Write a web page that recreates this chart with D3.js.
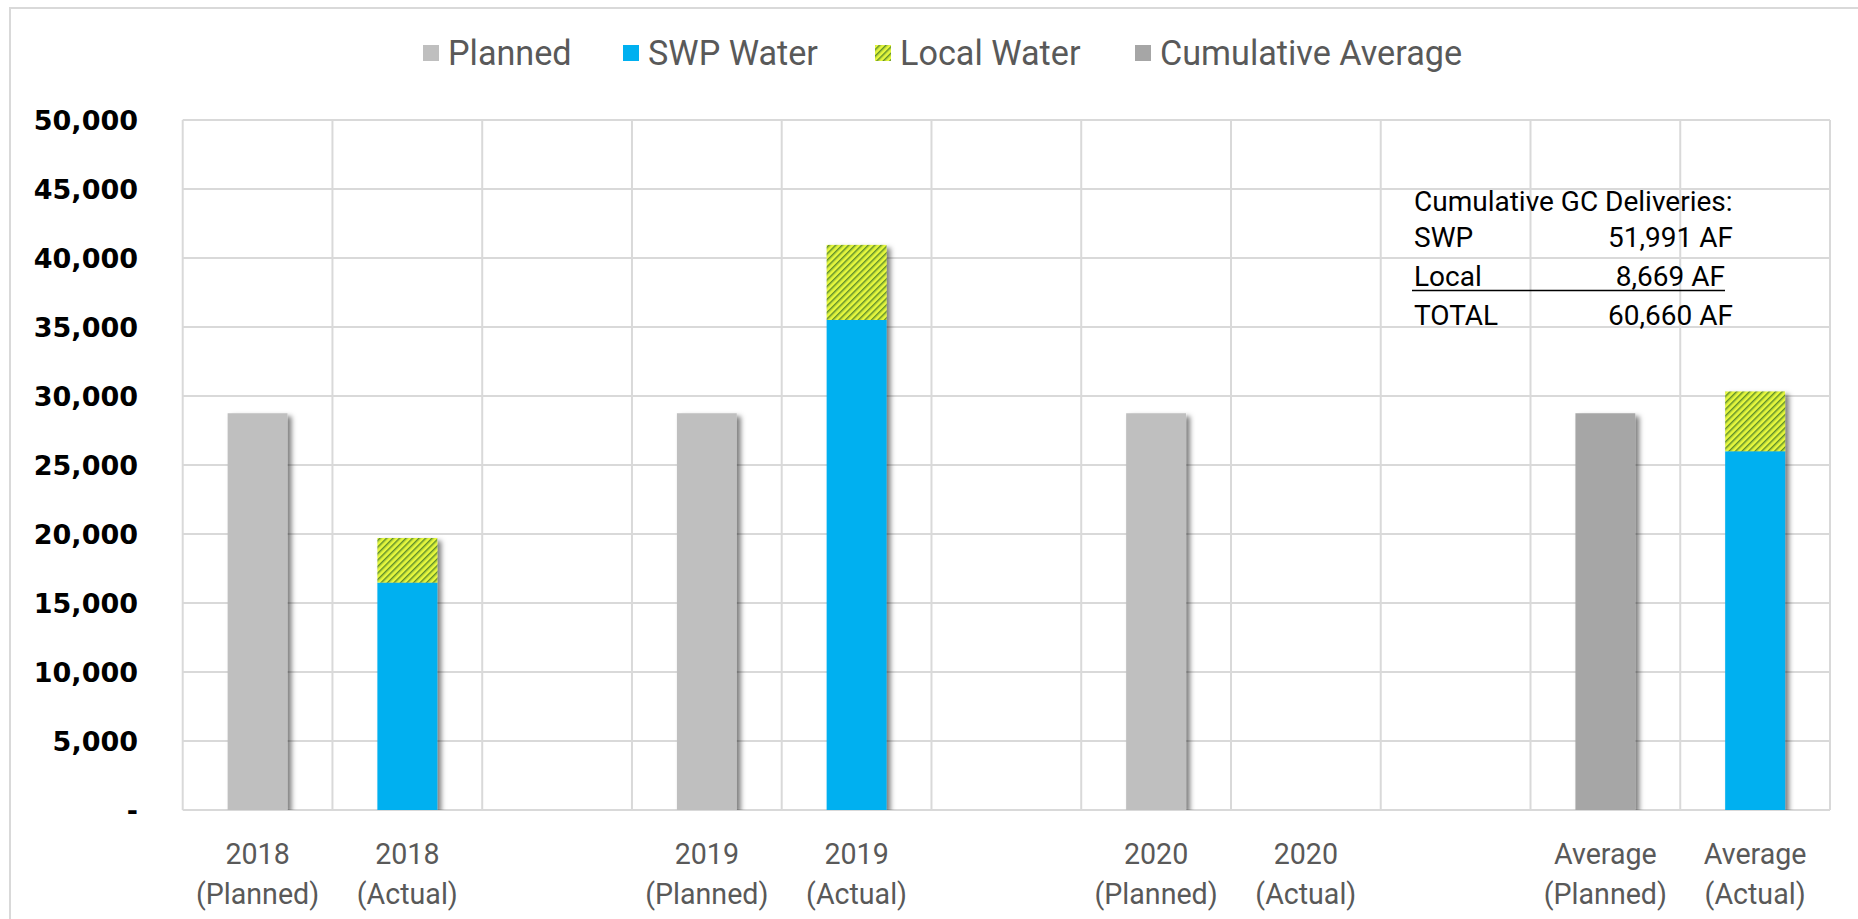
<!DOCTYPE html>
<html>
<head>
<meta charset="utf-8">
<script src="https://cdn.jsdelivr.net/npm/d3@7"></script>
<style>
  html, body { margin: 0; padding: 0; background: #ffffff; }
  svg { display: block; }
</style>
</head>
<body>
<svg id="chart" width="1858" height="919"></svg>
<script>
// ---------------- DATA ----------------
const categories = ["2018 (Planned)", "2018 (Actual)", "gap-1",
                    "2019 (Planned)", "2019 (Actual)", "gap-2",
                    "2020 (Planned)", "2020 (Actual)", "gap-3",
                    "Average (Planned)", "Average (Actual)"];
const xLabelLine1 = ["2018", "2018", "", "2019", "2019", "", "2020", "2020", "", "Average", "Average"];
const xLabelLine2 = ["(Planned)", "(Actual)", "", "(Planned)", "(Actual)", "", "(Planned)", "(Actual)", "", "(Planned)", "(Actual)"];

const planned           = [28750, 0, 0, 28750, 0, 0, 28750, 0, 0, 0, 0];
const swpWater          = [0, 16480, 0, 0, 35511, 0, 0, 0, 0, 0, 25996];
const localWater        = [0, 3230, 0, 0, 5439, 0, 0, 0, 0, 0, 4335];
const cumulativeAverage = [0, 0, 0, 0, 0, 0, 0, 0, 0, 28750, 0];

const yTickValues = [0, 5000, 10000, 15000, 20000, 25000, 30000, 35000, 40000, 45000, 50000];

const legendLabels = ["Planned", "SWP Water", "Local Water", "Cumulative Average"];

const noteTitle = "Cumulative GC Deliveries:";
const noteNames = ["SWP", "Local", "TOTAL"];
const noteValues = ["51,991 AF", "8,669 AF", "60,660 AF"];

// ---------------- STYLE / LAYOUT ----------------
const W = 1858, H = 919;
const plot = { left: 182.7, right: 1830, top: 120, bottom: 810 };
const colors = { planned: "#bfbfbf", swp: "#00b0f0", cum: "#a6a6a6", grid: "#d9d9d9", text: "#595959" };

const svg = d3.select("#chart");
const defs = svg.append("defs");

// hatch pattern for local water
const pat = defs.append("pattern")
  .attr("id", "hatch")
  .attr("patternUnits", "userSpaceOnUse")
  .attr("width", 4.6).attr("height", 4.6)
  .attr("patternTransform", "rotate(45)");
pat.append("rect").attr("width", 4.6).attr("height", 4.6).attr("fill", "#e6f73e");
pat.append("rect").attr("x", 0).attr("width", 1.5).attr("height", 4.6).attr("fill", "#62902a");
pat.append("rect").attr("x", 1.5).attr("width", 0.7).attr("height", 4.6).attr("fill", "#aacd35");

// shadow filter
const f = defs.append("filter").attr("id", "shadow")
  .attr("x", "-20%").attr("y", "-10%").attr("width", "150%").attr("height", "130%");
f.append("feDropShadow").attr("dx", 4).attr("dy", 3).attr("stdDeviation", 2.4)
  .attr("flood-color", "#000").attr("flood-opacity", 0.5);

defs.append("clipPath").attr("id", "plotClip")
  .append("rect").attr("x", plot.left).attr("y", plot.top - 5)
  .attr("width", plot.right - plot.left).attr("height", plot.bottom - plot.top + 5);

// chart frame
svg.append("rect").attr("x", 10).attr("y", 8).attr("width", W + 20).attr("height", H + 20)
  .attr("fill", "none").attr("stroke", colors.grid).attr("stroke-width", 2);

// scales
const x = d3.scaleBand().domain(categories).range([plot.left, plot.right])
  .paddingInner(0.6).paddingOuter(0.3);
const y = d3.scaleLinear().domain([0, 50000]).range([plot.bottom, plot.top]);
const step = x.step();

// horizontal gridlines
svg.append("g").selectAll("line").data(yTickValues).join("line")
  .attr("x1", plot.left).attr("x2", plot.right)
  .attr("y1", d => y(d)).attr("y2", d => y(d))
  .attr("stroke", colors.grid).attr("stroke-width", 2);

// vertical gridlines (band boundaries)
const boundaries = d3.range(categories.length + 1).map(i => plot.left + i * step);
svg.append("g").selectAll("line").data(boundaries).join("line")
  .attr("x1", d => d).attr("x2", d => d)
  .attr("y1", plot.top).attr("y2", plot.bottom)
  .attr("stroke", colors.grid).attr("stroke-width", 2);

// bars
const barsG = svg.append("g").attr("clip-path", "url(#plotClip)")
  .append("g").attr("filter", "url(#shadow)");

const rows = categories.map((c, i) => ({
  cat: c, planned: planned[i], swp: swpWater[i], local: localWater[i], cum: cumulativeAverage[i]
}));

barsG.selectAll("rect.planned").data(rows.filter(d => d.planned > 0)).join("rect")
  .attr("class", "planned")
  .attr("x", d => x(d.cat)).attr("width", x.bandwidth())
  .attr("y", d => y(d.planned)).attr("height", d => y(0) - y(d.planned))
  .attr("fill", colors.planned);

barsG.selectAll("rect.cum").data(rows.filter(d => d.cum > 0)).join("rect")
  .attr("class", "cum")
  .attr("x", d => x(d.cat)).attr("width", x.bandwidth())
  .attr("y", d => y(d.cum)).attr("height", d => y(0) - y(d.cum))
  .attr("fill", colors.cum);

barsG.selectAll("rect.swp").data(rows.filter(d => d.swp > 0)).join("rect")
  .attr("class", "swp")
  .attr("x", d => x(d.cat)).attr("width", x.bandwidth())
  .attr("y", d => y(d.swp)).attr("height", d => y(0) - y(d.swp))
  .attr("fill", colors.swp);

barsG.selectAll("rect.local").data(rows.filter(d => d.local > 0)).join("rect")
  .attr("class", "local")
  .attr("x", d => x(d.cat)).attr("width", x.bandwidth())
  .attr("y", d => y(d.swp + d.local)).attr("height", d => y(d.swp) - y(d.swp + d.local))
  .attr("fill", "url(#hatch)");

// y axis labels
const yAxis = d3.axisLeft(y).tickValues(yTickValues)
  .tickFormat(d => d === 0 ? "-" : d3.format(",")(d)).tickSize(0).tickPadding(0);
const yg = svg.append("g").attr("transform", `translate(138,0)`).call(yAxis);
yg.select(".domain").remove();
yg.selectAll("text")
  .attr("font-family", "'DejaVu Sans', Verdana, sans-serif")
  .attr("font-weight", "bold").attr("font-size", 27).attr("fill", "#000")
  .attr("dy", "0.36em");

// x axis labels
const xg = svg.append("g");
categories.forEach((c, i) => {
  if (!xLabelLine1[i]) return;
  const cx = x(c) + x.bandwidth() / 2;
  const t = xg.append("text").attr("text-anchor", "middle")
    .attr("font-family", "Roboto, sans-serif").attr("font-size", 28.6).attr("fill", colors.text);
  t.append("tspan").attr("x", cx).attr("y", 864).text(xLabelLine1[i]);
  t.append("tspan").attr("x", cx).attr("y", 904).text(xLabelLine2[i]);
});

// legend
const legendX = [423, 623, 875, 1135];
const legendFill = [colors.planned, colors.swp, "url(#hatch)", colors.cum];
const lg = svg.append("g");
legendLabels.forEach((lab, i) => {
  lg.append("rect").attr("x", legendX[i]).attr("y", 45).attr("width", 16).attr("height", 16)
    .attr("fill", legendFill[i]);
  lg.append("text").attr("x", legendX[i] + 25).attr("y", 65)
    .attr("font-family", "Roboto, sans-serif").attr("font-size", 34.2).attr("fill", colors.text)
    .text(lab);
});

// annotation
const ng = svg.append("g").attr("font-family", "Roboto, sans-serif").attr("font-size", 28).attr("fill", "#000");
ng.append("text").attr("x", 1414).attr("y", 211).text(noteTitle);
const noteY = [247, 286, 325];
const noteRight = [1733, 1725, 1733];
noteNames.forEach((n, i) => {
  ng.append("text").attr("x", 1414).attr("y", noteY[i]).text(n);
  ng.append("text").attr("x", noteRight[i]).attr("y", noteY[i]).attr("text-anchor", "end").text(noteValues[i]);
});
ng.append("line").attr("x1", 1412).attr("x2", 1725).attr("y1", 290.5).attr("y2", 290.5)
  .attr("stroke", "#000").attr("stroke-width", 1.5);
</script>
</body>
</html>
